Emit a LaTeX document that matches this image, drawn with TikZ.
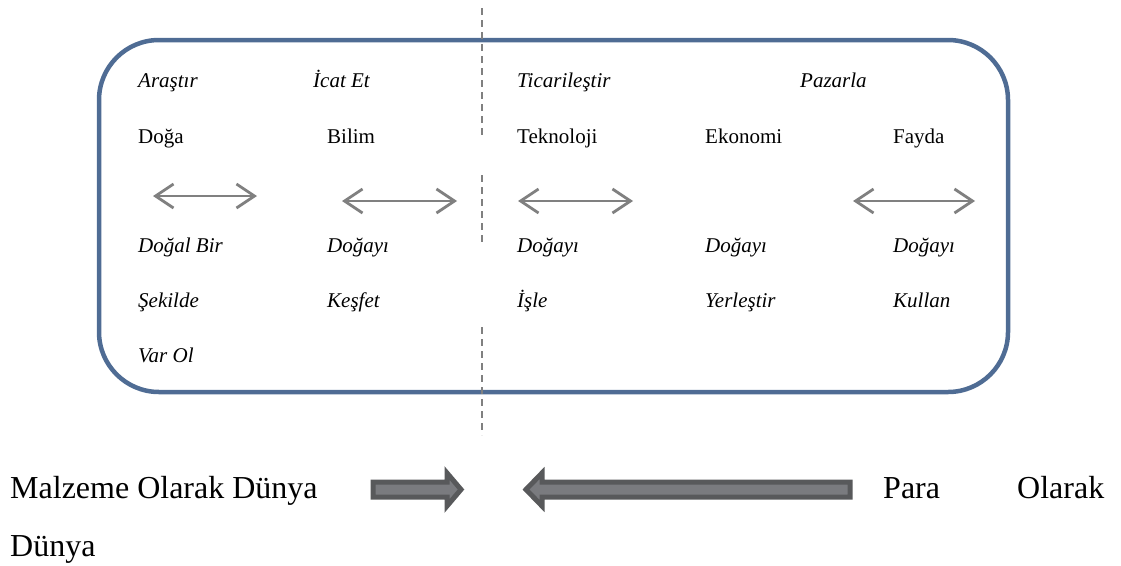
\documentclass[tikz,border=0pt]{standalone}
\usepackage{fontspec}
\setmainfont{Liberation Serif}
\usetikzlibrary{arrows.meta}
\definecolor{frameblue}{RGB}{79,108,148}
\definecolor{arrgray}{RGB}{128,128,128}
\definecolor{blockfill}{RGB}{122,123,127}
\definecolor{blockline}{RGB}{88,89,91}
\tikzset{
  lbl/.style={anchor=base west, inner sep=0pt, font=\fontsize{21}{24}\selectfont},
  ilbl/.style={lbl, font=\fontsize{21}{24}\selectfont\itshape},
  big/.style={anchor=base west, inner sep=0pt, font=\fontsize{32}{36}\selectfont},
  dbl/.style={draw=arrgray, line width=2.8pt, {Straight Barb[length=18pt,width=24pt,line width=2.8pt]}-{Straight Barb[length=18pt,width=24pt,line width=2.8pt]}},
  divider/.style={draw=arrgray, line width=2pt, dash pattern=on 7pt off 5pt},
  block/.style={fill=blockfill, draw=blockline, line width=5pt, line join=miter}
}
\begin{document}
\begin{tikzpicture}[x=1pt,y=-1pt]
\useasboundingbox (0,0) rectangle (1121,565);
% frame
\draw[frameblue, line width=4.5pt, rounded corners=60pt] (99,40) rectangle (1008,392);
% dashed divider
\coordinate (d1a) at (482,8);   \coordinate (d1b) at (482,135);
\coordinate (d2a) at (482,175); \coordinate (d2b) at (482,245);
\coordinate (d3a) at (482,327); \coordinate (d3b) at (482,435);
\draw[divider] (d1a) -- (d1b);
\draw[divider] (d2a) -- (d2b);
\draw[divider] (d3a) -- (d3b);
% row 1
\node[ilbl] (a1) at (138,87) {Araştır};
\node[ilbl] (a2) at (313,87) {İcat Et};
\node[ilbl] (a3) at (517,87) {Ticarileştir};
\node[ilbl] (a4) at (800,87) {Pazarla};
% row 2
\node[lbl] (b1) at (138,143) {Doğa};
\node[lbl] (b2) at (327,143) {Bilim};
\node[lbl] (b3) at (517,143) {Teknoloji};
\node[lbl] (b4) at (705,143) {Ekonomi};
\node[lbl] (b5) at (893,143) {Fayda};
% double arrows
\coordinate (p1a) at (153,196); \coordinate (p1b) at (257,196);
\coordinate (p2a) at (342,201); \coordinate (p2b) at (457,201);
\coordinate (p3a) at (518,201); \coordinate (p3b) at (633,201);
\coordinate (p4a) at (853,201); \coordinate (p4b) at (975,201);
\draw[dbl] (p1a) -- (p1b);
\draw[dbl] (p2a) -- (p2b);
\draw[dbl] (p3a) -- (p3b);
\draw[dbl] (p4a) -- (p4b);
% row 4
\node[ilbl] (c1) at (138,252) {Doğal Bir};
\node[ilbl] (c2) at (327,252) {Doğayı};
\node[ilbl] (c3) at (517,252) {Doğayı};
\node[ilbl] (c4) at (705,252) {Doğayı};
\node[ilbl] (c5) at (893,252) {Doğayı};
% row 5
\node[ilbl] (e1) at (138,307) {Şekilde};
\node[ilbl] (e2) at (327,307) {Keşfet};
\node[ilbl] (e3) at (517,307) {İşle};
\node[ilbl] (e4) at (705,307) {Yerleştir};
\node[ilbl] (e5) at (893,307) {Kullan};
% row 6
\node[ilbl] (f1) at (138,362) {Var Ol};
% bottom texts
\node[big] (m1) at (10,498) {Malzeme Olarak Dünya};
\node[big] (m2) at (10,556) {Dünya};
\node[big] (r1) at (883,498) {Para};
\node[big] (r2) at (1017,498) {Olarak};
% block arrows
\draw[block] (373,482) -- (447,482) -- (447,473) -- (461,489.5) -- (447,506) -- (447,497) -- (373,497) -- cycle;
\draw[block] (850,482) -- (542,482) -- (542,473) -- (526,489.5) -- (542,506) -- (542,497) -- (850,497) -- cycle;
\end{tikzpicture}
\end{document}
